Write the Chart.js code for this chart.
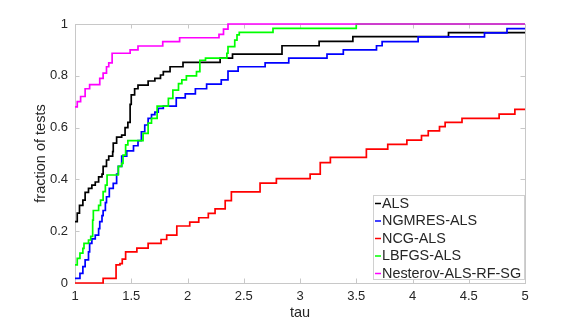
<!DOCTYPE html>
<html>
<head>
<meta charset="utf-8">
<script src="https://cdn.jsdelivr.net/npm/chart.js@4"></script>
<style>
  html, body { margin: 0; padding: 0; background: #fff; }
  #wrap { width: 581px; height: 322px; }
</style>
</head>
<body>
<div id="wrap"><canvas id="pp"></canvas></div>
<script>
// performance profile data (tau, fraction of tests)
const alsX = [1.0, 1.02, 1.04, 1.07, 1.09, 1.12, 1.15, 1.18, 1.21, 1.24, 1.25, 1.28, 1.30, 1.335, 1.34, 1.37, 1.415, 1.445, 1.47, 1.49, 1.50, 1.53, 1.56, 1.65, 1.71, 1.76, 1.785, 1.845, 1.96, 2.29, 2.40, 2.84, 3.17, 3.47, 4.32, 5.0];
const alsY = [0.237, 0.27, 0.30, 0.32, 0.35, 0.365, 0.378, 0.39, 0.41, 0.42, 0.45, 0.475, 0.49, 0.507, 0.54, 0.563, 0.571, 0.60, 0.62, 0.69, 0.726, 0.75, 0.764, 0.78, 0.79, 0.803, 0.816, 0.835, 0.852, 0.868, 0.884, 0.916, 0.933, 0.951, 0.967, 0.967];

const ngmresX = [1.0, 1.044, 1.07, 1.09, 1.12, 1.13, 1.15, 1.18, 1.21, 1.22, 1.24, 1.25, 1.27, 1.28, 1.305, 1.34, 1.37, 1.385, 1.415, 1.46, 1.52, 1.56, 1.59, 1.62, 1.65, 1.68, 1.71, 1.74, 1.785, 1.90, 1.98, 2.07, 2.17, 2.30, 2.36, 2.45, 2.69, 2.90, 3.24, 3.385, 3.68, 3.73, 4.05, 4.64, 4.84, 5.0];
const ngmresY = [0.018, 0.037, 0.063, 0.089, 0.12, 0.153, 0.17, 0.185, 0.21, 0.237, 0.26, 0.28, 0.31, 0.333, 0.365, 0.385, 0.42, 0.45, 0.49, 0.51, 0.53, 0.55, 0.584, 0.61, 0.636, 0.65, 0.66, 0.674, 0.683, 0.715, 0.73, 0.75, 0.768, 0.784, 0.818, 0.835, 0.85, 0.868, 0.884, 0.90, 0.916, 0.932, 0.95, 0.966, 0.982, 0.982];

const ncgX = [1.0, 1.25, 1.365, 1.40, 1.42, 1.45, 1.55, 1.65, 1.765, 1.815, 1.905, 2.02, 2.10, 2.185, 2.245, 2.335, 2.39, 2.645, 2.79, 3.09, 3.18, 3.27, 3.59, 3.78, 3.95, 4.08, 4.14, 4.24, 4.29, 4.44, 4.77, 4.91, 5.0];
const ncgY = [0, 0.018, 0.07, 0.075, 0.092, 0.12, 0.135, 0.153, 0.168, 0.185, 0.22, 0.235, 0.252, 0.269, 0.286, 0.318, 0.352, 0.386, 0.403, 0.42, 0.465, 0.485, 0.517, 0.535, 0.552, 0.569, 0.587, 0.604, 0.62, 0.636, 0.652, 0.67, 0.67];

const lbfgsX = [1.0, 1.02, 1.044, 1.07, 1.08, 1.12, 1.14, 1.157, 1.163, 1.21, 1.227, 1.25, 1.27, 1.285, 1.385, 1.415, 1.427, 1.45, 1.47, 1.605, 1.65, 1.68, 1.73, 1.83, 1.87, 1.92, 1.95, 1.99, 2.08, 2.11, 2.16, 2.35, 2.36, 2.42, 2.44, 2.46, 2.76, 3.50, 5.0];
const lbfgsY = [0.07, 0.095, 0.115, 0.134, 0.153, 0.166, 0.18, 0.243, 0.28, 0.30, 0.32, 0.353, 0.378, 0.417, 0.45, 0.462, 0.494, 0.533, 0.55, 0.578, 0.617, 0.636, 0.683, 0.713, 0.745, 0.77, 0.784, 0.80, 0.816, 0.86, 0.868, 0.887, 0.913, 0.938, 0.958, 0.968, 0.983, 1.0, 1.0];

const nesterovX = [1.0, 1.02, 1.05, 1.09, 1.13, 1.22, 1.25, 1.28, 1.30, 1.33, 1.49, 1.56, 1.78, 1.93, 2.28, 2.32, 2.36, 5.0];
const nesterovY = [0.68, 0.70, 0.72, 0.75, 0.766, 0.79, 0.81, 0.835, 0.85, 0.887, 0.90, 0.915, 0.932, 0.947, 0.96, 0.98, 1.0, 1.0];

const seriesNames = ['ALS', 'NGMRES-ALS', 'NCG-ALS', 'LBFGS-ALS', 'Nesterov-ALS-RF-SG'];
const seriesColors = ['#000000', '#0000ff', '#ff0000', '#00ff00', '#ff00ff'];

const xTicks = [1, 1.5, 2, 2.5, 3, 3.5, 4, 4.5, 5];
const xTickLabels = ['1', '1.5', '2', '2.5', '3', '3.5', '4', '4.5', '5'];
const yTicks = [0, 0.2, 0.4, 0.6, 0.8, 1];
const yTickLabels = ['0', '0.2', '0.4', '0.6', '0.8', '1'];

const FONT = '"Liberation Sans", Arial, sans-serif';
const BOX = '#c8c8c8';

function pts(xs, ys) {
    return xs.map((x, i) => ({ x: x, y: ys[i] }));
}

const allX = [alsX, ngmresX, ncgX, lbfgsX, nesterovX];
const allY = [alsY, ngmresY, ncgY, lbfgsY, nesterovY];

// matlab-ish box with inward ticks, drawn under the lines
const boxPlugin = {
    id: 'box',
    beforeDatasetsDraw(chart) {
        const ctx = chart.ctx;
        const a = chart.chartArea;
        const xs = chart.scales.x, ys = chart.scales.y;
        ctx.save();
        ctx.strokeStyle = BOX;
        ctx.lineWidth = 1;
        ctx.strokeRect(Math.round(a.left) + 0.5, Math.round(a.top) + 0.5,
            Math.round(a.right - a.left), Math.round(a.bottom - a.top));
        ctx.beginPath();
        xTicks.forEach(v => {
            const px = Math.round(xs.getPixelForValue(v)) + 0.5;
            ctx.moveTo(px, a.bottom); ctx.lineTo(px, a.bottom - 4.5);
            ctx.moveTo(px, a.top); ctx.lineTo(px, a.top + 4.5);
        });
        yTicks.forEach(v => {
            const py = Math.round(ys.getPixelForValue(v)) + 0.5;
            ctx.moveTo(a.left, py); ctx.lineTo(a.left + 4.5, py);
            ctx.moveTo(a.right, py); ctx.lineTo(a.right - 4.5, py);
        });
        ctx.stroke();
        ctx.restore();
    }
};

// legend box in the lower right corner of the axes
const legendBox = {
    id: 'legendBox',
    afterDraw(chart) {
        const ctx = chart.ctx;
        const a = chart.chartArea;
        ctx.save();
        ctx.font = '14.4px ' + FONT;
        let tw = 0;
        chart.data.datasets.forEach(d => { tw = Math.max(tw, ctx.measureText(d.label).width); });
        const w = Math.round(tw + 12), h = 84;
        const x0 = Math.round(a.right - 1 - w), y0 = Math.round(a.bottom - 4 - h);
        ctx.fillStyle = '#fff';
        ctx.fillRect(x0, y0, w, h);
        ctx.strokeStyle = '#d0d0d0';
        ctx.lineWidth = 1;
        ctx.strokeRect(x0 + 0.5, y0 + 0.5, w, h);
        ctx.textBaseline = 'middle';
        chart.data.datasets.forEach((d, i) => {
            const cy = y0 + 8.5 + i * 17.5;
            ctx.strokeStyle = d.borderColor;
            ctx.lineWidth = 1.5;
            ctx.beginPath();
            ctx.moveTo(x0 + 2, cy); ctx.lineTo(x0 + 8, cy);
            ctx.stroke();
            ctx.fillStyle = '#262626';
            ctx.fillText(d.label, x0 + 9, cy + 0.5);
        });
        ctx.restore();
    }
};

const ctx = document.getElementById('pp').getContext('2d');
new Chart(ctx, {
    type: 'line',
    data: {
        datasets: seriesNames.map((name, i) => ({
            label: name,
            data: pts(allX[i], allY[i]),
            borderColor: seriesColors[i],
            backgroundColor: seriesColors[i],
            borderWidth: 1.7,
            pointRadius: 0,
            stepped: true,
            fill: false,
            clip: false,
            order: -i // later series drawn on top, like matlab
        }))
    },
    options: {
        responsive: true,
        maintainAspectRatio: false,
        animation: false,
        events: [],
        layout: { padding: { left: 32, top: 24, right: 56, bottom: 0 } },
        plugins: {
            legend: { display: false },
            tooltip: { enabled: false }
        },
        scales: {
            x: {
                type: 'linear',
                min: 1, max: 5,
                afterFit(s) { s.height = 39; },
                afterBuildTicks(s) { s.ticks = xTicks.map(v => ({ value: v })); },
                grid: { display: false, drawTicks: false },
                border: { display: false },
                ticks: {
                    padding: 6,
                    color: '#262626',
                    font: { family: FONT, size: 13 },
                    maxRotation: 0,
                    callback: (v, i) => xTickLabels[i]
                },
                title: {
                    display: true,
                    text: 'tau',
                    color: '#262626',
                    font: { family: FONT, size: 14.5 },
                    padding: { top: 0, bottom: 0 }
                }
            },
            y: {
                min: 0, max: 1,
                afterFit(s) { s.width = 43; },
                afterBuildTicks(s) { s.ticks = yTicks.map(v => ({ value: v })); },
                grid: { display: false, drawTicks: false },
                border: { display: false },
                ticks: {
                    padding: 7,
                    color: '#262626',
                    font: { family: FONT, size: 13 },
                    callback: (v, i) => yTickLabels[i]
                },
                title: {
                    display: true,
                    text: 'fraction of tests',
                    color: '#262626',
                    font: { family: FONT, size: 14.5 },
                    padding: { top: 0, bottom: 0 }
                }
            }
        }
    },
    plugins: [boxPlugin, legendBox]
});
</script>
</body>
</html>
